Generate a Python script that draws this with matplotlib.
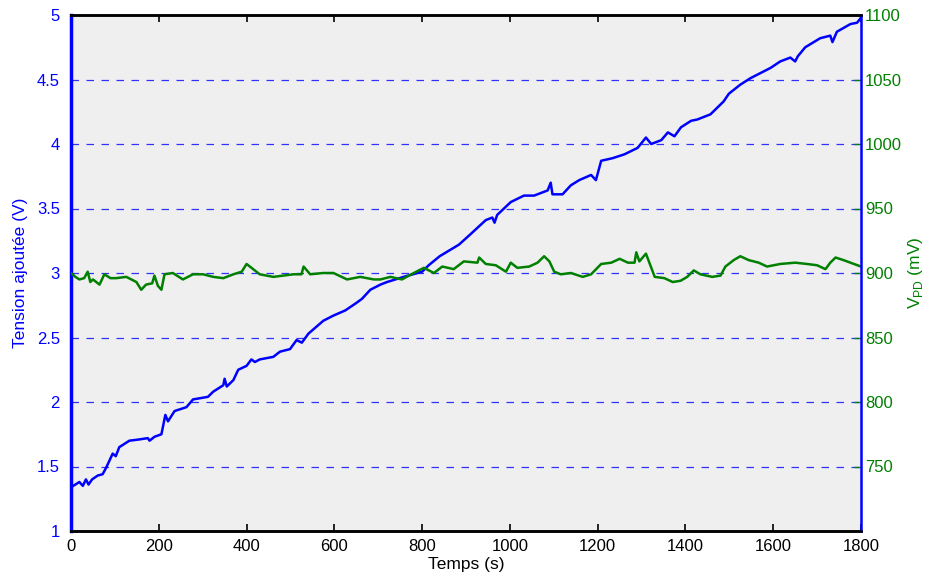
import numpy as np
import matplotlib.pyplot as plt

plt.rcParams['font.family'] = ['Liberation Sans', 'DejaVu Sans']

# Tension ajoutee (V) vs temps (s)
t_tension = [0, 10, 19, 27, 34, 40, 48, 61, 72, 80, 95, 102, 110, 133, 156, 175, 179, 190, 206,
             215, 221, 236, 263, 278, 312, 324, 347, 350, 355, 370, 381, 400, 411, 419, 430, 461,
             476, 499, 514, 526, 541, 575, 598, 625, 651, 663, 682, 705, 720, 758, 800, 815, 840,
             884, 910, 945, 960, 965, 971, 1002, 1032, 1055, 1086, 1093, 1097, 1120, 1139, 1158,
             1185, 1196, 1208, 1234, 1261, 1291, 1310, 1322, 1345, 1360, 1375, 1390, 1413, 1427,
             1457, 1487, 1499, 1525, 1548, 1594, 1616, 1639, 1650, 1656, 1673, 1707, 1730, 1735,
             1745, 1776, 1791, 1798, 1800]
tension = [1.34, 1.36, 1.38, 1.35, 1.40, 1.36, 1.40, 1.43, 1.44, 1.49, 1.60, 1.58, 1.65, 1.70,
           1.71, 1.72, 1.70, 1.73, 1.75, 1.90, 1.85, 1.93, 1.96, 2.02, 2.04, 2.08, 2.13, 2.18,
           2.12, 2.17, 2.25, 2.28, 2.33, 2.31, 2.33, 2.35, 2.39, 2.41, 2.48, 2.46, 2.53, 2.63,
           2.67, 2.71, 2.77, 2.80, 2.87, 2.91, 2.93, 2.97, 3.01, 3.06, 3.13, 3.22, 3.30, 3.41,
           3.43, 3.39, 3.45, 3.55, 3.60, 3.60, 3.64, 3.70, 3.61, 3.61, 3.68, 3.72, 3.76, 3.72,
           3.87, 3.89, 3.92, 3.97, 4.05, 4.00, 4.03, 4.09, 4.06, 4.13, 4.18, 4.19, 4.23, 4.33,
           4.39, 4.46, 4.51, 4.59, 4.64, 4.67, 4.64, 4.68, 4.75, 4.82, 4.84, 4.79, 4.87, 4.93,
           4.94, 4.97, 4.98]

# V_PD (mV) vs temps (s)
t_vpd = [0, 10, 19, 30, 38, 44, 50, 65, 76, 90, 103, 126, 149, 160, 171, 185, 190, 198, 206,
         213, 232, 255, 278, 301, 324, 347, 370, 389, 400, 415, 430, 461, 507, 525, 530, 545,
         575, 598, 629, 659, 690, 705, 728, 754, 781, 804, 827, 846, 872, 895, 926, 930, 945,
         968, 991, 1002, 1017, 1044, 1063, 1078, 1090, 1101, 1116, 1139, 1166, 1185, 1208,
         1231, 1250, 1269, 1284, 1288, 1295, 1310, 1330, 1352, 1371, 1389, 1404, 1419, 1434,
         1461, 1480, 1491, 1510, 1525, 1544, 1567, 1586, 1616, 1650, 1677, 1700, 1719, 1730,
         1742, 1760, 1800]
vpd = [900, 897, 895, 896, 901, 893, 895, 891, 899, 896, 896, 897, 893, 887, 891, 892, 898, 890,
       887, 899, 900, 895, 899, 899, 897, 896, 899, 901, 907, 903, 899, 897, 899, 899, 905, 899,
       900, 900, 895, 897, 895, 895, 897, 895, 900, 904, 900, 905, 903, 909, 908, 912, 907,
       906, 901, 908, 904, 905, 908, 913, 909, 901, 899, 900, 897, 899, 907, 908, 911, 908,
       908, 916, 909, 915, 897, 896, 893, 894, 897, 902, 899, 897, 898, 905, 910, 913, 910,
       908, 905, 907, 908, 907, 906, 903, 908, 912, 910, 905]

blue = '#0000ff'
green = '#008000'

fig = plt.figure(figsize=(9.33, 5.83), dpi=100)
ax1 = fig.add_axes([71/933, 1 - 531/583, (861 - 71)/933, (531 - 15)/583])
ax1.set_facecolor('#efefef')
ax2 = ax1.twinx()

ax1.plot(t_tension, tension, color=blue, linewidth=1.8, zorder=3)
ax2.plot(t_vpd, vpd, color=green, linewidth=1.8)

ax1.set_xlim(0, 1800)
ax1.set_ylim(1, 5)
ax2.set_ylim(700, 1100)
ax1.set_xticks(np.arange(0, 1801, 200))
ax1.set_yticks(np.arange(1, 5.01, 0.5))
ax1.set_yticklabels(['1', '1.5', '2', '2.5', '3', '3.5', '4', '4.5', '5'])
ax2.set_yticks(np.arange(750, 1101, 50))

# horizontal dashed grid on the left scale
for y in np.arange(1.5, 4.51, 0.5):
    ax1.axhline(y, color='#3030ff', linewidth=0.9, linestyle=(0, (6, 6)), zorder=1)

ax1.tick_params(axis='x', direction='in', length=5, width=1.2, top=True, labelsize=12,
                colors='black', pad=6)
ax1.tick_params(axis='y', direction='in', length=0, labelsize=12, colors=blue, pad=8)
ax2.tick_params(axis='y', direction='in', length=5, width=1, labelsize=12, colors=green, pad=3)

for ax in (ax1, ax2):
    ax.spines['top'].set_linewidth(1.8)
    ax.spines['bottom'].set_linewidth(1.8)
ax1.spines['left'].set_color(blue)
ax1.spines['left'].set_linewidth(2.5)
ax2.spines['left'].set_visible(False)
ax2.spines['right'].set_color(blue)
ax2.spines['right'].set_linewidth(1.8)
ax1.spines['right'].set_visible(False)

ax1.set_xlabel('Temps (s)', fontsize=12.5, labelpad=2)
ax1.set_ylabel('Tension ajoutée (V)', fontsize=12.5, color=blue, labelpad=6)
ax2.set_ylabel('V$_{\\mathregular{PD}}$ (mV)', fontsize=12.5, color=green, labelpad=3)

fig.savefig('out.png', dpi=100)
